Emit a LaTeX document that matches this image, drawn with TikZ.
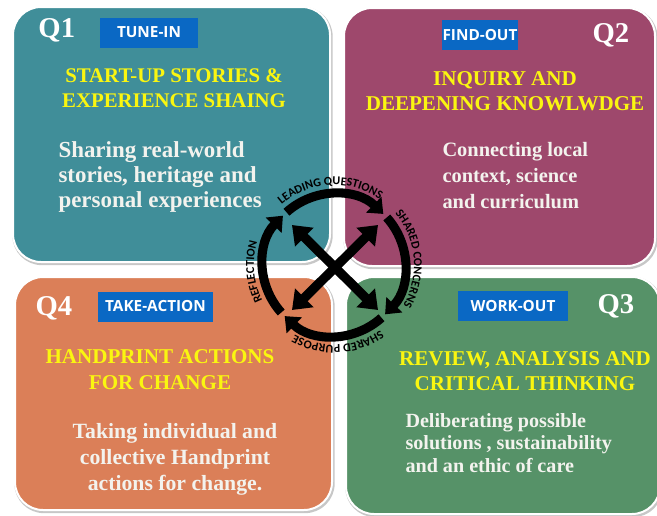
\documentclass[tikz,border=0pt]{standalone}
\usepackage{fontspec}
\setmainfont{Liberation Serif}
\newfontfamily\tagfont{Open Sans}
\newfontfamily\ringfam{Carlito}
\usetikzlibrary{arrows.meta,decorations.text}

\definecolor{tealQ}{RGB}{64,142,153}
\definecolor{plumQ}{RGB}{158,72,108}
\definecolor{orangeQ}{RGB}{219,127,88}
\definecolor{greenQ}{RGB}{86,146,104}
\definecolor{tagblue}{RGB}{10,104,196}
\definecolor{headyellow}{RGB}{250,246,16}
\definecolor{bodywhite}{RGB}{243,243,238}

\newcommand{\ringfont}{\ringfam\bfseries\fontsize{9}{10}\selectfont}

\tikzset{every picture/.style={line width=0.75pt}}
\tikzset{
  quadbox/.style={draw=white, line width=1.5pt, rounded corners=21pt},
  quadshadow/.style={draw=black!22, line width=2.5pt, rounded corners=21pt},
  tagbox/.style={fill=tagblue, text=white, font=\tagfont\bfseries\fontsize{11.5}{13}\selectfont, inner sep=0pt, minimum height=22.5pt},
  qnum/.style={text=white, font=\bfseries\fontsize{21.5}{24}\selectfont, inner sep=0pt},
  heading/.style={text=headyellow, align=center, inner sep=0pt},
  bodytext/.style={text=bodywhite, inner sep=0pt},
  ringarrow/.style={line width=6.8pt, -{Triangle[length=10pt,width=16pt]}},
  crossarrow/.style={line width=7pt, {Triangle[length=13pt,width=19pt]}-{Triangle[length=13pt,width=19pt]}},
  ringtext/.style={decorate, decoration={text along path, text align=center, text={|\ringfont|#1}}},
}

\begin{document}
\begin{tikzpicture}[x=0.75pt,y=0.75pt,yscale=-1,xscale=1]
	\useasboundingbox (0,0) rectangle (657,515);

	%Shape: Rounded Rect (Q1)
	\draw [quadshadow] (14,8.5) rectangle (331,263.5);
	\draw [quadbox, fill=tealQ] (13,7) rectangle (330,262);
	%Shape: Rounded Rect (Q2)
	\draw [quadshadow] (345,9.5) rectangle (656,267.5);
	\draw [quadbox, fill=plumQ] (344,8) rectangle (655,266);
	%Shape: Rounded Rect (Q4)
	\draw [quadshadow] (16,278.5) rectangle (333,511.5);
	\draw [quadbox, fill=orangeQ] (15,277) rectangle (332,510);
	%Shape: Rounded Rect (Q3)
	\draw [quadshadow] (347,278.5) rectangle (661,515.5);
	\draw [quadbox, fill=greenQ] (346,277) rectangle (660,514);

	% Text Node
	\draw (38,37) node (q1) [qnum, anchor=base west] {Q1};
	\draw (592,42) node (q2) [qnum, anchor=base west] {Q2};
	\draw (35,315) node (q4) [qnum, anchor=base west] {Q4};
	\draw (597,313) node (q3) [qnum, anchor=base west] {Q3};

	% Text Node
	\draw (149,32.5) node (tunein) [tagbox, minimum width=73.5pt] {TUNE-IN};
	\draw (480,35) node (findout) [tagbox, minimum width=57pt] {FIND-OUT};
	\draw (155.5,306.5) node (takeaction) [tagbox, minimum width=86pt] {TAKE-ACTION};
	\draw (513,306) node (workout) [tagbox, minimum width=82.5pt] {WORK-OUT};

	% Text Node
	\draw (174,88) node (head1) [heading, font=\bfseries\fontsize{15.6}{18.75}\selectfont] {START-UP STORIES \&\\EXPERIENCE SHAING};
	\draw (505,91) node (head2) [heading, font=\bfseries\fontsize{15.8}{18.75}\selectfont] {INQUIRY AND\\DEEPENING KNOWLWDGE};
	\draw (160,370) node (head4) [heading, font=\bfseries\fontsize{15.8}{19.5}\selectfont] {HANDPRINT ACTIONS\\FOR CHANGE};
	\draw (525,371) node (head3) [heading, font=\bfseries\fontsize{15.8}{19}\selectfont] {REVIEW, ANALYSIS AND\\CRITICAL THINKING};

	% Text Node
	\draw (58,177) node (body1) [bodytext, anchor=west, align=left, font=\bfseries\fontsize{17.2}{18.75}\selectfont] {Sharing real-world\\stories, heritage and\\personal experiences};
	\draw (442,176) node (body2) [bodytext, anchor=west, align=left, font=\bfseries\fontsize{15.3}{19.5}\selectfont] {Connecting local\\context, science\\and curriculum};
	\draw (175,459) node (body4) [bodytext, align=center, font=\bfseries\fontsize{16.3}{19.5}\selectfont] {Taking individual and\\collective Handprint\\actions for change.};
	\draw (405,443) node (body3) [bodytext, anchor=west, align=left, font=\bfseries\fontsize{15.1}{17}\selectfont] {Deliberating possible\\solutions , sustainability\\and an ethic of care};

	%Shape: Cycle
	\coordinate (hub) at (334,265);
	\begin{scope}[shift={(hub)}, yscale=-1]
		\draw [ringarrow] (132:71) arc (132:46:71);
		\draw [ringarrow] (42:71) arc (42:-44:71);
		\draw [ringarrow] (-48:71) arc (-48:-134:71);
		\draw [ringarrow] (-138:71) arc (-138:-224:71);
		\path [ringtext={LEADING QUESTIONS}] (150:80) arc (150:36:80);
		\path [ringtext={SHARED CONCERNS}] (60:80) arc (60:-50:80);
		\path [ringtext={SHARED PURPOSE}] (-32:80) arc (-32:-142:80);
		\path [ringtext={REFLECTION}] (240:80) arc (240:130:80);
	\end{scope}

	%Straight Lines
	\coordinate (xtl) at (292,225);
	\coordinate (xbr) at (378,310);
	\coordinate (xtr) at (378,225);
	\coordinate (xbl) at (292,310);
	\draw [crossarrow] (xtl) -- (xbr);
	\draw [crossarrow] (xtr) -- (xbl);

\end{tikzpicture}
\end{document}
